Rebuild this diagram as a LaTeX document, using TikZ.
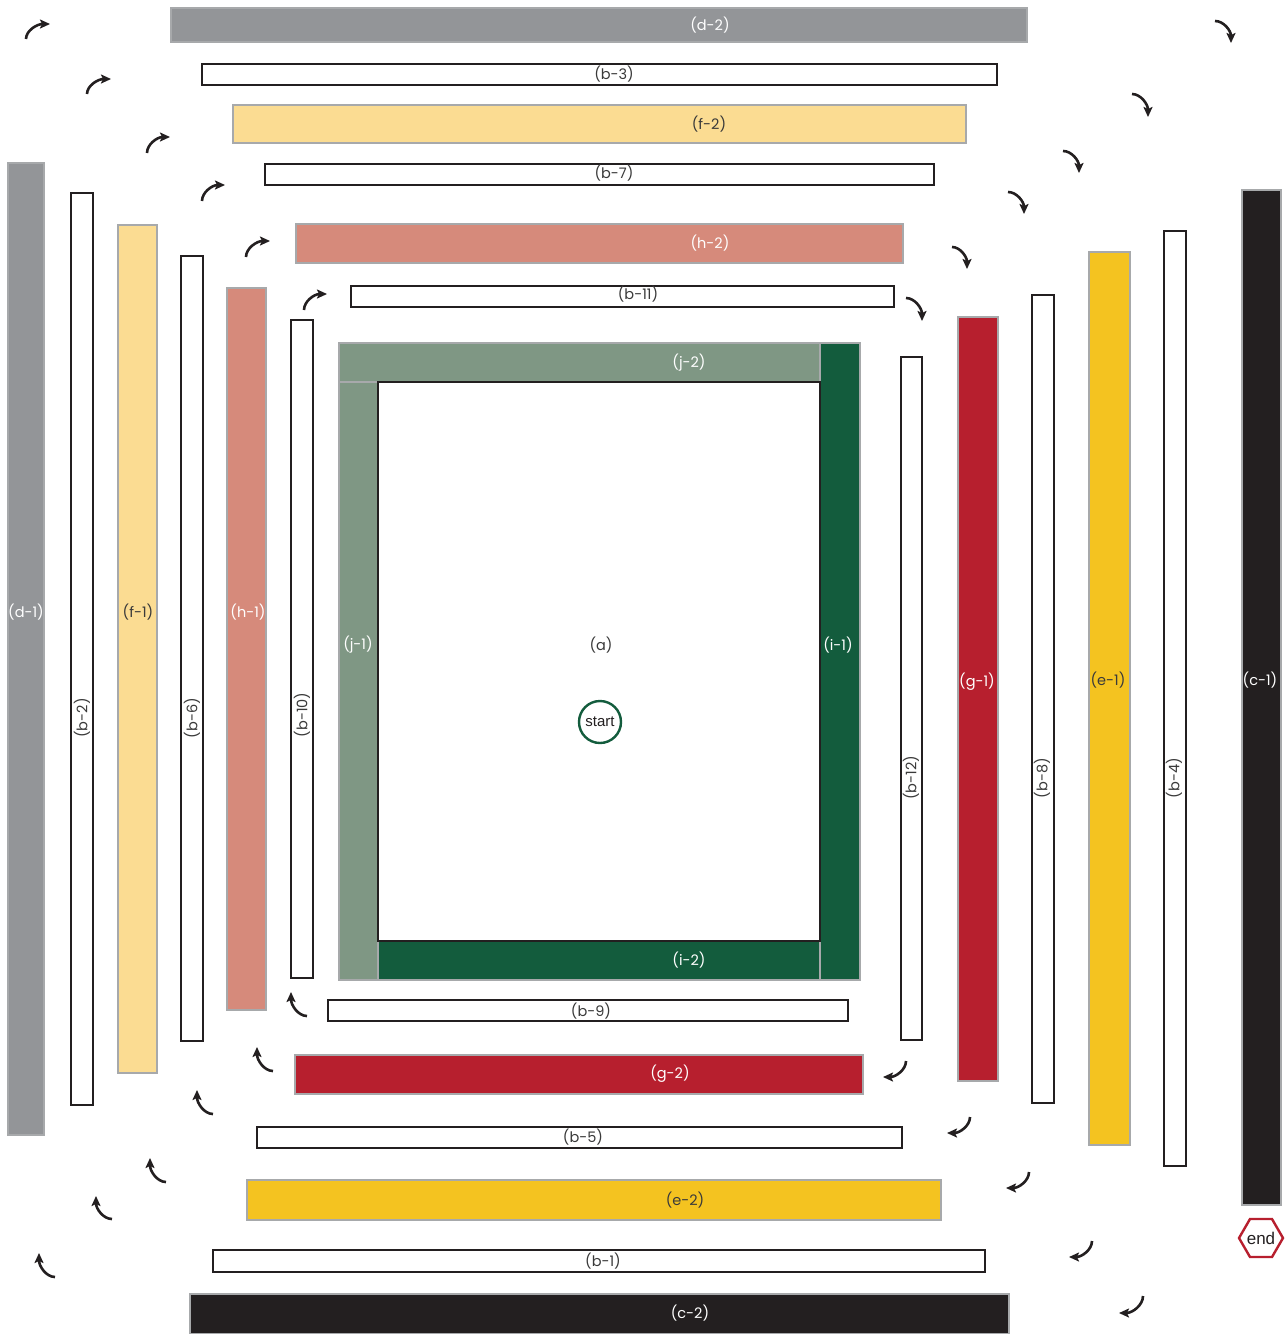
\documentclass[tikz,border=0pt]{standalone}
\usepackage{fontspec}
\setmainfont{Poppins}
\newfontfamily\arialf{Liberation Sans}
\usetikzlibrary{arrows.meta,calc}
\definecolor{cgray}{HTML}{939598}
\definecolor{cly}{HTML}{FBDC92}
\definecolor{csal}{HTML}{D68A7B}
\definecolor{cjg}{HTML}{7F9784}
\definecolor{cdg}{HTML}{135C3D}
\definecolor{cred}{HTML}{B71F2E}
\definecolor{cyel}{HTML}{F4C320}
\definecolor{cblk}{HTML}{231F20}
\definecolor{cbord}{HTML}{A7A9AB}
\definecolor{ctxt}{HTML}{3A3A3A}
\newcommand\mybox[6]{\node[#6, minimum width={#4-#2}, minimum height={#5-#3}] (#1) at ({(#2+#4)/2},{(#3+#5)/2}) {};}
% curved arrow: start, corner, tip
\newcommand\carr[6]{\draw[arr] (#1,#2) .. controls ($(#1,#2)!0.55!(#3,#4)$) and ($(#5,#6)!0.55!(#3,#4)$) .. (#5,#6);}
\tikzset{
  wbox/.style={draw=cblk, fill=white, line width=2pt, inner sep=0pt, outer sep=0pt},
  cbox/.style={draw=cbord, fill=#1, line width=1.3pt, inner sep=0pt, outer sep=0pt},
  lbl/.style={font=\fontsize{14.5}{16}\selectfont, text=ctxt, inner sep=1pt},
  wlbl/.style={lbl, text=white},
  arr/.style={draw=cblk, line width=2.6pt, -{Stealth[length=10pt,width=9pt,inset=2pt]}}
}
\begin{document}
\begin{tikzpicture}[x=1pt,y=-1pt]
\useasboundingbox (0,0) rectangle (1285,1334);
% top bars
\mybox{d-2}{171}{8}{1027}{42}{cbox=cgray}
\mybox{b-3}{202}{64}{997}{85}{wbox}
\mybox{f-2}{233}{105}{966}{143}{cbox=cly}
\mybox{b-7}{265}{164}{934}{185}{wbox}
\mybox{h-2}{296}{224}{903}{263}{cbox=csal}
\mybox{b-11}{351}{286}{894}{307}{wbox}
% centre
\mybox{j-2}{339}{343}{820}{382}{cbox=cjg}
\mybox{j-1}{339}{382}{378}{980}{cbox=cjg}
\mybox{i-1}{820}{343}{860}{980}{cbox=cdg}
\mybox{i-2}{378}{941}{820}{980}{cbox=cdg}
\mybox{a}{378}{382}{820}{941}{wbox}
% bottom bars
\mybox{b-9}{328}{1000}{848}{1021}{wbox}
\mybox{g-2}{295}{1055}{863}{1094}{cbox=cred}
\mybox{b-5}{257}{1127}{902}{1148}{wbox}
\mybox{e-2}{247}{1180}{941}{1220}{cbox=cyel}
\mybox{b-1}{213}{1250}{985}{1272}{wbox}
\mybox{c-2}{190}{1294}{1009}{1334}{cbox=cblk}
% left bars
\mybox{d-1}{8}{163}{44}{1135}{cbox=cgray}
\mybox{b-2}{71}{193}{93}{1105}{wbox}
\mybox{f-1}{118}{225}{157}{1073}{cbox=cly}
\mybox{b-6}{181}{256}{203}{1041}{wbox}
\mybox{h-1}{227}{288}{266}{1010}{cbox=csal}
\mybox{b-10}{291}{320}{313}{978}{wbox}
% right bars
\mybox{b-12}{901}{357}{922}{1040}{wbox}
\mybox{g-1}{958}{317}{998}{1081}{cbox=cred}
\mybox{b-8}{1032}{295}{1054}{1103}{wbox}
\mybox{e-1}{1089}{252}{1130}{1145}{cbox=cyel}
\mybox{b-4}{1164}{231}{1186}{1166}{wbox}
\mybox{c-1}{1242}{190}{1281}{1205}{cbox=cblk}
% labels
\node[wlbl] (l-d-2) at (710,25) {(d-2)};
\node[lbl] (l-b-3) at (614,74) {(b-3)};
\node[lbl] (l-f-2) at (709,124) {(f-2)};
\node[lbl] (l-b-7) at (614,173) {(b-7)};
\node[wlbl] (l-h-2) at (710,243) {(h-2)};
\node[lbl] (l-b-11) at (638,294) {(b-11)};
\node[wlbl] (l-j-2) at (689,363) {(j-2)};
\node[wlbl] (l-j-1) at (358,645) {(j-1)};
\node[wlbl] (l-i-1) at (838,645) {(i-1)};
\node[wlbl] (l-i-2) at (689,960) {(i-2)};
\node[lbl] (l-a) at (601,645) {(a)};
\node[lbl] (l-b-9) at (591,1011) {(b-9)};
\node[wlbl] (l-g-2) at (670,1074) {(g-2)};
\node[lbl] (l-b-5) at (583,1137) {(b-5)};
\node[lbl] (l-e-2) at (685,1200) {(e-2)};
\node[lbl] (l-b-1) at (603,1261) {(b-1)};
\node[wlbl] (l-c-2) at (690,1313) {(c-2)};
\node[wlbl] (l-d-1) at (26,612) {(d-1)};
\node[lbl, rotate=90] (l-b-2) at (82,718) {(b-2)};
\node[lbl] (l-f-1) at (138,612) {(f-1)};
\node[lbl, rotate=90] (l-b-6) at (192,718) {(b-6)};
\node[wlbl] (l-h-1) at (248,612) {(h-1)};
\node[lbl, rotate=90] (l-b-10) at (302,715) {(b-10)};
\node[lbl, rotate=90] (l-b-12) at (911,778) {(b-12)};
\node[wlbl] (l-g-1) at (977,682) {(g-1)};
\node[lbl, rotate=90] (l-b-8) at (1042,778) {(b-8)};
\node[lbl] (l-e-1) at (1108,680) {(e-1)};
\node[lbl, rotate=90] (l-b-4) at (1174,778) {(b-4)};
\node[wlbl] (l-c-1) at (1260,680) {(c-1)};
% start / end
\node[circle, draw=cdg, line width=2.4pt, fill=white, minimum size=42pt, inner sep=0pt,
      font=\arialf\fontsize{15}{17}\selectfont, text=cblk] (start) at (600,722) {start};
\node[font=\arialf\fontsize{17}{19}\selectfont, text=cblk, inner sep=0pt] (end) at (1261,1238) {end};
\draw[cred, line width=2.4pt, line join=miter]
  (1239,1238) -- (1250,1219) -- (1272,1219) -- (1283,1238) -- (1272,1257) -- (1250,1257) -- cycle;
% top-left arrows (up, then right)
\foreach \sx/\sy/\tx/\ty in {26/39/50/24, 87/94/111/79, 147/153/170/137, 202/201/225/185, 246/257/270/241, 304/310/327/294}
  {\carr{\sx}{\sy}{\sx}{\ty}{\tx}{\ty}}
% top-right arrows (right, then down)
\foreach \sx/\sy/\tx/\ty in {1215/21/1231/43, 1132/94/1148/117, 1063/151/1079/173, 1008/192/1024/214, 952/247/967/269, 906/298/922/321}
  {\carr{\sx}{\sy}{\tx}{\sy}{\tx}{\ty}}
% bottom-left arrows (left, then up)
\foreach \sx/\sy/\tx/\ty in {307/1016/291/992, 273/1071/257/1047, 213/1114/197/1090, 166/1182/150/1158, 112/1219/96/1196, 55/1277/39/1253}
  {\carr{\sx}{\sy}{\tx}{\sy}{\tx}{\ty}}
% bottom-right arrows (down, then left)
\foreach \sx/\sy/\tx/\ty in {906/1061/883/1077, 970/1117/947/1133, 1029/1172/1006/1188, 1092/1241/1069/1257, 1143/1296/1119/1313}
  {\carr{\sx}{\sy}{\sx}{\ty}{\tx}{\ty}}
\end{tikzpicture}
\end{document}
